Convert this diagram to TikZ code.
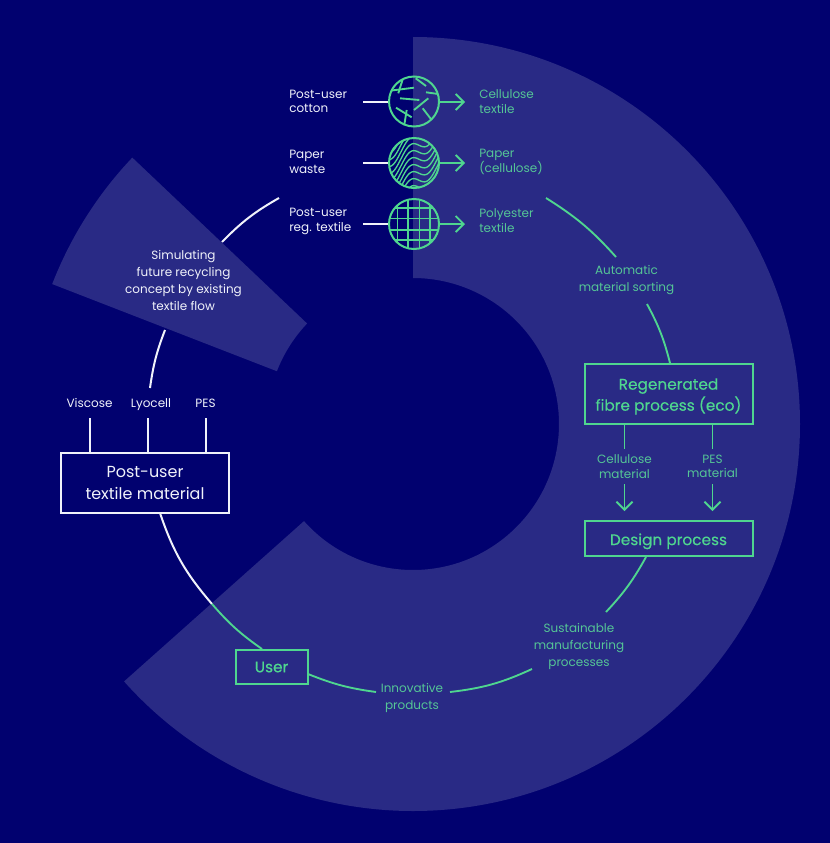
\documentclass[tikz,border=0pt]{standalone}
\usepackage{fontspec}
\setmainfont{Poppins}
\usetikzlibrary{arrows.meta}
\definecolor{navy}{HTML}{01016F}
\definecolor{ringc}{HTML}{292A85}
\definecolor{mint}{HTML}{4FD68F}
\definecolor{mintt}{HTML}{55C596}
\definecolor{paper}{HTML}{F0F2FA}
\tikzset{
  lbl/.style={font=\fontsize{9}{10.9}\selectfont,align=center,inner sep=0pt,text=paper},
  lblg/.style={lbl,text=mintt},
  wide/.style={font=\fontsize{9}{12.75}\selectfont},
  bigw/.style={font=\fontsize{12}{15.8}\selectfont,align=center,draw=paper,text=paper,line width=1.5pt,inner sep=0pt},
  bigg/.style={font=\fontsize{11.5}{15.8}\selectfont\addfontfeatures{FakeBold=0.3},align=center,draw=mint,text=mint,line width=1.5pt,inner sep=0pt},
  wl/.style={draw=paper,line width=1.5pt},
  gl/.style={draw=mint,line width=1.4pt},
  tip/.style={-{Straight Barb[length=6pt,width=12pt,line width=1.4pt]}},
  disc/.style={circle,draw=mint,line width=1.5pt,minimum size=37.5pt,inner sep=0pt},
}
\newcommand{\dn}{\rule{0pt}{13pt}}
\begin{document}
\begin{tikzpicture}[x=0.75pt,y=-0.75pt]
\useasboundingbox (0,0) rectangle (830,843);
\fill[navy] (0,0) rectangle (830,843);
% ring and wedge
\begin{scope}[shift={(413,424)}]
\fill[ringc] (-90:387) arc[start angle=-90,end angle=138.3,radius=387]
  -- (138.3:146) arc[start angle=138.3,end angle=-90,radius=146] -- cycle;
\fill[ringc] (-136.5:387) arc[start angle=-136.5,end angle=-158.8,radius=387]
  -- (-158.8:146) arc[start angle=-158.8,end angle=-136.5,radius=146] -- cycle;
\end{scope}
% discs
\node[disc] (d1) at (414,101.5) {};
\node[disc] (d2) at (414,163) {};
\node[disc] (d3) at (414,224) {};
\begin{scope}
\clip (414,101.5) circle (25);
\foreach \a/\b/\c/\d in {402.7/79.3/398.3/93.3,390/90.7/414/87.7,415.7/78.3/426/86,426/92.3/438.3/94,400/98.3/419.3/100,428.3/98.3/414/110,422.7/108.3/431.7/120,396/107.7/411.7/117.3,406.7/110/404.3/125}
  \draw[gl] (\a,\b) -- (\c,\d);
\end{scope}
\begin{scope}
\clip (414,163) circle (25);
\foreach \o in {-56,-49,...,56}
  \draw[gl,line width=1pt,smooth,samples=50,domain=-30:30,shift={(414,163)}] plot (\x,{\o-0.75*\x+7*sin((\x-5)*10)});
\end{scope}
\begin{scope}
\clip (414,224) circle (25);
\foreach \v in {397.5,408,419.5,430}
  \draw[gl] (\v,195) -- (\v,253);
\foreach \h in {208,218.5,230,240}
  \draw[gl] (385,\h) -- (443,\h);
\end{scope}
% row labels
\node[lbl,align=left,anchor=west] (pc) at (289,101.5) {Post-user\\cotton};
\node[lbl,align=left,anchor=west] (pw) at (289,162) {Paper\\waste};
\node[lbl,align=left,anchor=west] (pr) at (289,221.5) {Post-user\\reg. textile};
\node[lblg,align=left,anchor=west] (cc) at (479,101.5) {Cellulose\\textile};
\node[lblg,align=left,anchor=west] (cp) at (479,162) {Paper\\(cellulose)};
\node[lblg,align=left,anchor=west] (cy) at (479,220.5) {Polyester\\textile};
\coordinate (w1) at (363,101.5);\coordinate (w2) at (363,163);\coordinate (w3) at (363,224);
\coordinate (t1) at (465,102);\coordinate (t2) at (465,163);\coordinate (t3) at (465,224);
\draw[wl] (w1) -- (d1.west); \draw[wl] (w2) -- (d2.west); \draw[wl] (w3) -- (d3.west);
\draw[gl,tip] (d1.east|-t1) -- (t1); \draw[gl,tip] (d2.east) -- (t2); \draw[gl,tip] (d3.east) -- (t3);
% text nodes
\node[lbl,wide] (sim) at (183.5,280.5) {Simulating\\future recycling\\concept by existing\\textile flow};
\node[lblg,wide] (auto) at (626.5,280) {Automatic\\material sorting};
\node[lblg,wide] (sus) at (579,646.5) {Sustainable\\manufacturing\\processes};
\node[lblg,wide] (inn) at (412,698) {Innovative\\products};
\node[lbl,anchor=base] (vis) at (89.5,407) {Viscose};
\node[lbl,anchor=base] (lyo) at (151,407) {Lyocell};
\node[lbl,anchor=base] (pes) at (205.5,407) {PES};
\node[lblg] (cm) at (624.5,466.5) {Cellulose\\material};
\node[lblg] (pm) at (712.5,466.5) {PES\\material};
% boxes
\node[bigw,minimum width=126pt,minimum height=45pt] (post) at (145,483) {Post-user\\textile material};
\node[bigg,minimum width=126pt,minimum height=45pt] (reg) at (668.5,393.5) {\dn Regenerated\\fibre process (eco)};
\node[bigg,minimum width=126pt,minimum height=26pt] (des) at (668.5,538.5) {\dn Design process};
\node[bigg,minimum width=54pt,minimum height=26pt] (usr) at (271.5,667) {User};
% white lines to box
\draw[wl] (90,418) -- (post.north -| 90,0);
\draw[wl] (148,418) -- (post.north -| 148,0);
\draw[wl] (205.5,418) -- (post.north -| 205.5,0);
% ring connectors
\coordinate (a1) at (279,198);\coordinate (a2) at (222,242);
\coordinate (a3) at (165,330);\coordinate (a4) at (150,388);
\coordinate (b1) at (160,513);\coordinate (b2) at (212,604);\coordinate (b3) at (262,649);
\coordinate (c1) at (308,674);\coordinate (c2) at (376,692);
\coordinate (c3) at (450,692);\coordinate (c4) at (532,669);
\coordinate (c5) at (606,612);\coordinate (c6) at (646,557);
\coordinate (c7) at (670,363);\coordinate (c8) at (647,304);
\coordinate (c9) at (616,257);\coordinate (c10) at (546,198);
\draw[wl] (a1) to[bend right=8] (a2);
\draw[wl] (a3) to[bend right=6.5] (a4);
\draw[wl] (b1) to[bend right=11] (b2);
\draw[gl] (b2) to[bend right=7] (b3);
\draw[gl] (c1) to[bend right=7] (c2);
\draw[gl] (c3) to[bend right=9] (c4);
\draw[gl] (c5) to[bend right=7] (c6);
\draw[gl] (c7) to[bend right=7] (c8);
\draw[gl] (c9) to[bend right=8] (c10);
% process
\coordinate (r1) at (624.5,449);\coordinate (r2) at (712.5,449);
\coordinate (r3) at (624.5,484);\coordinate (r4) at (712.5,484);
\draw[gl] (reg.south -| r1) -- (r1);
\draw[gl] (reg.south -| r2) -- (r2);
\draw[gl,tip] (r3) -- (624.5,511);
\draw[gl,tip] (r4) -- (712.5,511);
\end{tikzpicture}
\end{document}
